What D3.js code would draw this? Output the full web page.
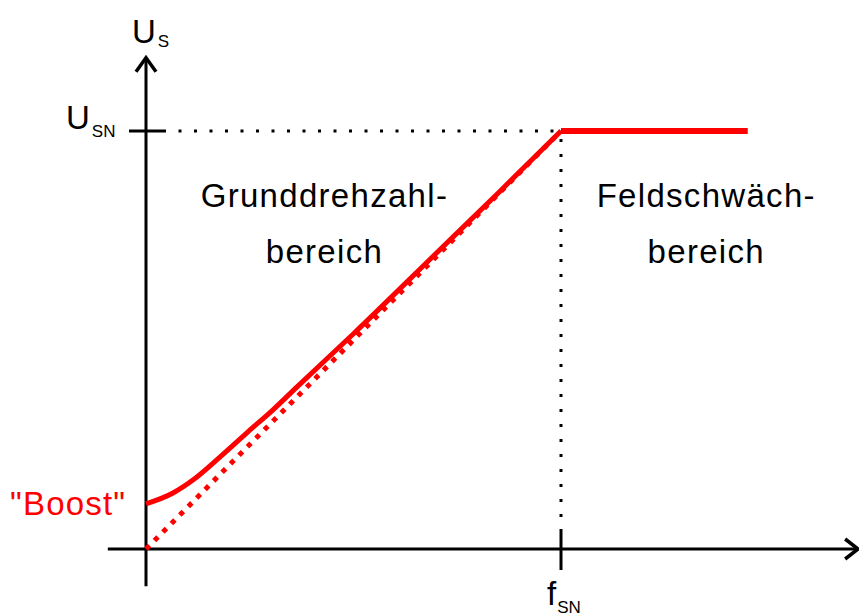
<!DOCTYPE html>
<html>
<head>
<meta charset="utf-8">
<script src="https://cdn.jsdelivr.net/npm/d3@7"></script>
<style>
  html, body { margin: 0; padding: 0; background: #fff; }
  svg { display: block; font-family: "Liberation Sans", Arial, sans-serif; }
</style>
</head>
<body>
<div class="container"></div>
<script>
// normalised values: f / f_SN on x, U_S / U_SN on y
const boostF = [0, 0.065, 0.113, 0.178, 0.243, 0.306, 0.364, 0.5, 0.7, 0.85, 1];
const boostU = [0.108, 0.134, 0.165, 0.220, 0.278, 0.333, 0.388, 0.515, 0.708, 0.853, 1];
const linearF = [0, 1];
const linearU = [0, 1];
const fieldF = [1, 1.45];
const fieldU = [1, 1];
const regionLabels = [["Grunddrehzahl-", "bereich"], ["Feldschwäch-", "bereich"]];
const regionCenters = [0.43, 1.35];

const width = 859, height = 616;

const svg = d3.select(".container")
    .append("svg")
    .attr("width", width)
    .attr("height", height);

// f_SN = 1 sits at x 561, U_SN = 1 at y 131
const x = d3.scaleLinear().domain([0, 1]).range([146, 561]);
const y = d3.scaleLinear().domain([0, 1]).range([549, 131]);

const xMin = -0.092, xMax = 1.716;
const yMin = -0.089, yMax = 1.175;

// dotted helper lines
svg.append("line")
    .attr("x1", x(0) + 17).attr("x2", x(1))
    .attr("y1", y(1)).attr("y2", y(1))
    .attr("stroke", "#000").attr("stroke-width", 3)
    .attr("stroke-dasharray", "3,12.5");

svg.append("line")
    .attr("x1", x(1)).attr("x2", x(1))
    .attr("y1", y(1) + 8).attr("y2", y(0) - 17)
    .attr("stroke", "#000").attr("stroke-width", 3)
    .attr("stroke-dasharray", "3,12");

// axes
svg.append("line")
    .attr("x1", x(xMin)).attr("x2", x(xMax) - 1)
    .attr("y1", y(0)).attr("y2", y(0))
    .attr("stroke", "#000").attr("stroke-width", 3);

svg.append("line")
    .attr("x1", x(0)).attr("x2", x(0))
    .attr("y1", y(yMin)).attr("y2", y(yMax) + 1)
    .attr("stroke", "#000").attr("stroke-width", 3);

// open arrow heads
const arrow = d3.line();
svg.append("path")
    .attr("d", arrow([[x(xMax) - 13, y(0) - 10], [x(xMax), y(0)], [x(xMax) - 13, y(0) + 10]]))
    .attr("fill", "none").attr("stroke", "#000").attr("stroke-width", 3.5);

svg.append("path")
    .attr("d", arrow([[x(0) - 10, y(yMax) + 14], [x(0), y(yMax)], [x(0) + 10, y(yMax) + 14]]))
    .attr("fill", "none").attr("stroke", "#000").attr("stroke-width", 3.5);

// ticks
svg.append("line")
    .attr("x1", x(0) - 17).attr("x2", x(0) + 17)
    .attr("y1", y(1)).attr("y2", y(1))
    .attr("stroke", "#000").attr("stroke-width", 3);

svg.append("line")
    .attr("x1", x(1)).attr("x2", x(1))
    .attr("y1", y(0) - 17).attr("y2", y(0) + 21)
    .attr("stroke", "#000").attr("stroke-width", 3);

// red curves
const line = d3.line()
    .x(d => x(d[0]))
    .y(d => y(d[1]));

svg.append("path")
    .attr("d", line(d3.zip(linearF, linearU)))
    .attr("fill", "none")
    .attr("stroke", "#ff0000")
    .attr("stroke-width", 5)
    .attr("stroke-dasharray", "5,7");

svg.append("path")
    .attr("d", line.curve(d3.curveMonotoneX)(d3.zip(boostF, boostU)))
    .attr("fill", "none")
    .attr("stroke", "#ff0000")
    .attr("stroke-width", 5);

svg.append("path")
    .attr("d", d3.line().x(d => x(d[0])).y(d => y(d[1]))(d3.zip(fieldF, fieldU)))
    .attr("fill", "none")
    .attr("stroke", "#ff0000")
    .attr("stroke-width", 6);

// labels
const labelSize = 33;
const subSize = 17;

function symbol(main, sub, px, py, dx, dy) {
    const t = svg.append("text")
        .attr("x", px).attr("y", py)
        .attr("font-size", labelSize)
        .attr("fill", "#000");
    t.append("tspan").text(main);
    t.append("tspan")
        .attr("dx", dx).attr("dy", dy)
        .attr("font-size", subSize)
        .text(sub);
}

symbol("U", "S", x(0) - 14, 43, 2, 4);
symbol("U", "SN", 66, y(1) - 2, 2, 8);
symbol("f", "SN", x(1) - 14, 605, 1, 8);

svg.append("text")
    .attr("x", 10)
    .attr("y", y(0.108) + 11)
    .attr("font-size", labelSize)
    .attr("letter-spacing", 1.2)
    .attr("fill", "#ff0000")
    .text("\"Boost\"");

regionLabels.forEach((lines, i) => {
    svg.append("g")
        .selectAll("text")
        .data(lines)
        .join("text")
        .attr("x", x(regionCenters[i]))
        .attr("y", (d, j) => 207 + j * 56)
        .attr("text-anchor", "middle")
        .attr("font-size", labelSize)
        .attr("letter-spacing", 1.3)
        .attr("fill", "#000")
        .text(d => d);
});
</script>
</body>
</html>
